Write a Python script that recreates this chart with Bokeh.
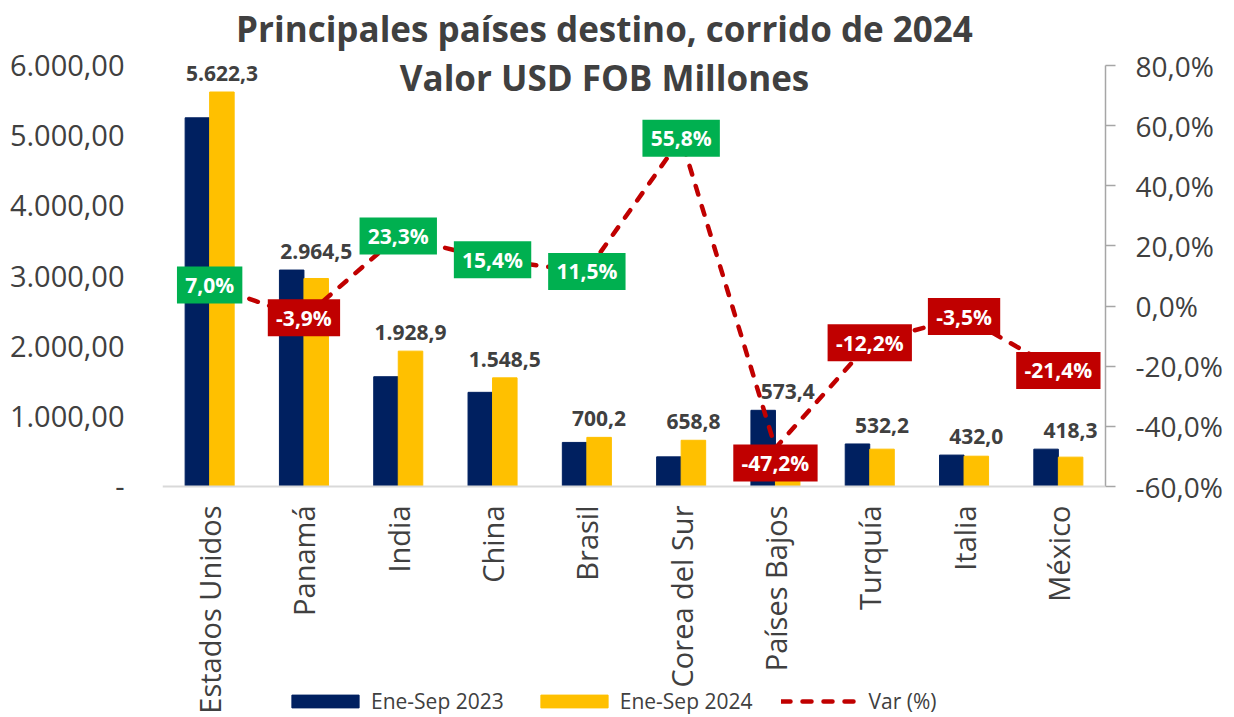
import math
from bokeh.plotting import figure
from bokeh.models import (FactorRange, Range1d, LinearAxis, FixedTicker, Label,
                          Legend, LegendItem, ColumnDataSource, Span)
from bokeh.transform import dodge
from bokeh.core.properties import value
from bokeh.embed import file_html
from bokeh.resources import INLINE

# ---------------- data ----------------
categories = ["Estados Unidos", "Panamá", "India", "China", "Brasil",
              "Corea del Sur", "Países Bajos", "Turquía", "Italia", "México"]
ene_sep_2023 = [5254.5, 3084.8, 1564.4, 1341.9, 628.0, 422.8, 1086.0, 606.2, 447.7, 532.2]
ene_sep_2024 = [5622.3, 2964.5, 1928.9, 1548.5, 700.2, 658.8, 573.4, 532.2, 432.0, 418.3]
var_pct = [7.0, -3.9, 23.3, 15.4, 11.5, 55.8, -47.2, -12.2, -3.5, -21.4]

left_ticks = [0, 1000, 2000, 3000, 4000, 5000, 6000]
left_tick_labels = ["-", "1.000,00", "2.000,00", "3.000,00", "4.000,00", "5.000,00", "6.000,00"]
right_ticks = [-60, -40, -20, 0, 20, 40, 60, 80]
right_tick_labels = ["-60,0%", "-40,0%", "-20,0%", "0,0%", "20,0%", "40,0%", "60,0%", "80,0%"]

title_lines = ["Principales países destino, corrido de 2024", "Valor USD FOB Millones"]
legend_labels = ["Ene-Sep 2023", "Ene-Sep 2024", "Var (%)"]

# ---------------- styles ----------------
NAVY = "#002060"
YELLOW = "#FFC000"
RED = "#C00000"
GREEN = "#00B050"
TXT = "#404040"
FONT = "Open Sans"

W, H = 1230, 717
BL, BR = 162, 125            # frame spans x 162..1105
Y_BASE, Y_TOP_TICK = 486, 65  # pixel rows of the axis minimum / maximum ticks

ppu_l = (Y_BASE - Y_TOP_TICK) / 6000.0
ppu_r = (Y_BASE - Y_TOP_TICK) / 140.0
y_start = -(H - Y_BASE) / ppu_l
y_end = 6000 + Y_TOP_TICK / ppu_l
r_start = -60 - (H - Y_BASE) / ppu_r
r_end = 80 + Y_TOP_TICK / ppu_r

# label box placed below its point (pixels) for a crowded spot
BOX_SHIFT_PX = {"Países Bajos": 15}


def fmt_num(v):
    s = f"{v:,.1f}"
    return s.replace(",", "X").replace(".", ",").replace("X", ".")


def fmt_pct(v):
    return f"{v:.1f}%".replace(".", ",")


CHAR_W = {"-": 0.33, ",": 0.29, "%": 0.87}


def text_w(s, size):
    return sum(CHAR_W.get(c, 0.572) for c in s) * size


var_labels = [fmt_pct(v) for v in var_pct]
src = ColumnDataSource(dict(
    cat=categories,
    v23=ene_sep_2023,
    v24=ene_sep_2024,
    zero=[0] * len(categories),
    lab_y=[max(a, b) for a, b in zip(ene_sep_2023, ene_sep_2024)],
    lab=[fmt_num(v) for v in ene_sep_2024],
    var=var_pct,
    box_y=[v - BOX_SHIFT_PX.get(c, 0) / ppu_r for c, v in zip(categories, var_pct)],
    var_lab=var_labels,
    box_w=[text_w(s, 21) + 17 for s in var_labels],
    box_c=[GREEN if v >= 0 else RED for v in var_pct],
))

p = figure(x_range=FactorRange(*categories), y_range=Range1d(y_start, y_end),
           width=W, height=H, output_backend="svg", toolbar_location=None,
           x_axis_location=None,
           min_border_left=BL, min_border_right=BR, min_border_top=0, min_border_bottom=0)
p.outline_line_color = None
p.xgrid.grid_line_color = None
p.ygrid.grid_line_color = None

p.extra_y_ranges = {"var": Range1d(r_start, r_end)}

# baseline (category axis line)
p.add_layout(Span(location=0, dimension="width", line_color="#D9D9D9", line_width=2))

# bars
r23 = p.vbar(x=dodge("cat", -0.13, range=p.x_range), top="v23", bottom=0, width=0.26,
             source=src, fill_color=NAVY, line_color=NAVY)
r24 = p.vbar(x=dodge("cat", 0.13, range=p.x_range), top="v24", bottom=0, width=0.26,
             source=src, fill_color=YELLOW, line_color=YELLOW)

# category labels (vertical, under the baseline)
p.text(x="cat", y="zero", text="cat", source=src, angle=math.pi / 2,
       text_align="right", text_baseline="middle", y_offset=19,
       text_font=value(FONT), text_font_size="29px", text_color=TXT)

# value labels (2024)
p.text(x=dodge("cat", 0.13, range=p.x_range), y="lab_y", text="lab", source=src,
       text_align="center", text_baseline="bottom", y_offset=-11,
       text_font=value(FONT), text_font_style="bold", text_font_size="21px",
       text_color=TXT)

# var line
rline = p.line(x="cat", y="var", source=src, y_range_name="var",
               line_color=RED, line_width=4.5, line_dash="9 12", line_cap="round")

# var boxes
p.rect(x="cat", y="box_y", width="box_w", height=37, width_units="screen",
       height_units="screen", source=src, y_range_name="var",
       fill_color="box_c", line_color=None)
p.text(x="cat", y="box_y", text="var_lab", source=src, y_range_name="var",
       text_align="center", text_baseline="middle", text_color="white",
       text_font=value(FONT), text_font_style="bold", text_font_size="21px")

# left axis
ya = p.yaxis[0]
ya.ticker = FixedTicker(ticks=left_ticks)
ya.major_label_overrides = {t: l for t, l in zip(left_ticks, left_tick_labels)}
ya.axis_line_color = None
ya.major_tick_line_color = None
ya.minor_tick_line_color = None
ya.major_tick_out = 0
ya.major_tick_in = 0
ya.major_label_text_font = FONT
ya.major_label_text_font_size = "29px"
ya.major_label_text_color = TXT
ya.major_label_standoff = 38

# right axis
ra = LinearAxis(y_range_name="var", ticker=FixedTicker(ticks=right_ticks), bounds=(-60, 80))
ra.major_label_overrides = {t: l for t, l in zip(right_ticks, right_tick_labels)}
ra.axis_line_color = "#A6A6A6"
ra.axis_line_width = 1.5
ra.major_tick_line_color = "#A6A6A6"
ra.major_tick_line_width = 1.5
ra.major_tick_out = 10
ra.major_tick_in = 0
ra.minor_tick_line_color = None
ra.major_label_text_font = FONT
ra.major_label_text_font_size = "28px"
ra.major_label_text_color = TXT
ra.major_label_standoff = 20
p.add_layout(ra, "right")

# title
title_x = (604 - BL) / 943 * len(categories)
for line, row in zip(title_lines, [28, 77]):
    p.add_layout(Label(x=title_x, y=6000 + (Y_TOP_TICK - row) / ppu_l, text=line,
                       text_align="center", text_baseline="middle", text_font=FONT,
                       text_font_style="bold", text_font_size="35px", text_color=TXT))

# legend
legend = Legend(items=[LegendItem(label=legend_labels[0], renderers=[r23]),
                       LegendItem(label=legend_labels[1], renderers=[r24]),
                       LegendItem(label=legend_labels[2], renderers=[rline])],
                orientation="horizontal", location=(283 - BL, 2),
                glyph_width=84, glyph_height=16, label_standoff=4, spacing=28,
                padding=0, margin=0, border_line_color=None,
                background_fill_alpha=0, label_text_font=FONT,
                label_text_font_size="21px", label_text_color=TXT)
p.add_layout(legend, "center")

open("out.html", "w").write(file_html(p, INLINE))
